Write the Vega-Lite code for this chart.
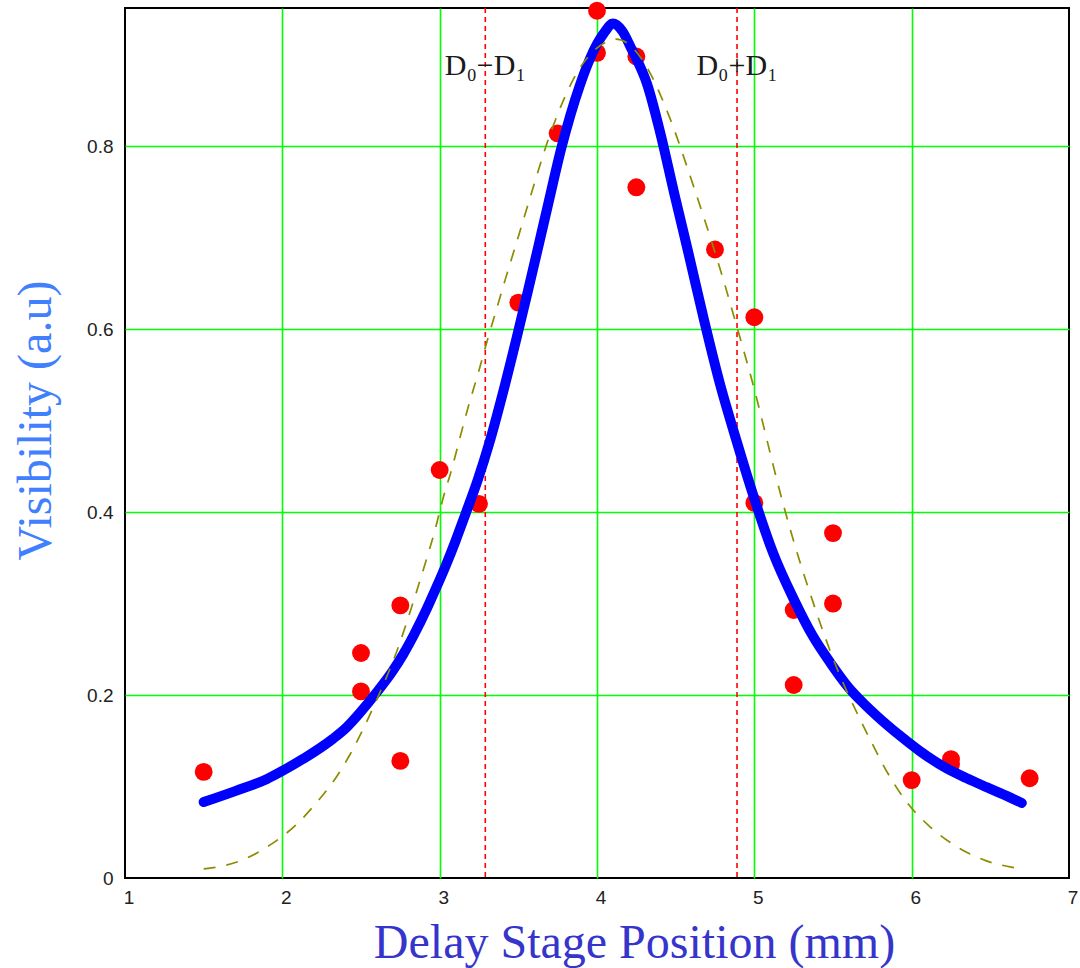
{
  "$schema": "https://vega.github.io/schema/vega-lite/v6.json",
  "width": 944,
  "height": 870,
  "autosize": {"type": "none"},
  "padding": {"left": 125, "top": 8, "right": 11, "bottom": 90},
  "background": "white",
  "config": {
    "view": {"stroke": "#000000", "strokeWidth": 2},
    "axis": {"domain": false, "ticks": false, "gridColor": "#00ff00", "gridWidth": 1.6, "gridOpacity": 1, "labelFont": "Liberation Sans", "labelFontSize": 19, "labelColor": "#222222", "titleFont": "Liberation Serif", "titleFontSize": 48, "titleFontWeight": "normal"}
  },
  "datasets": {
    "points": [
      {"pos": 1.5, "vis": 0.116},
      {"pos": 2.5, "vis": 0.246},
      {"pos": 2.5, "vis": 0.204},
      {"pos": 2.75, "vis": 0.298},
      {"pos": 2.75, "vis": 0.128},
      {"pos": 3.0, "vis": 0.446},
      {"pos": 3.25, "vis": 0.409},
      {"pos": 3.5, "vis": 0.629},
      {"pos": 3.75, "vis": 0.814},
      {"pos": 4.0, "vis": 0.948},
      {"pos": 4.0, "vis": 0.902},
      {"pos": 4.25, "vis": 0.898},
      {"pos": 4.25, "vis": 0.755},
      {"pos": 4.75, "vis": 0.687},
      {"pos": 5.0, "vis": 0.613},
      {"pos": 5.0, "vis": 0.41},
      {"pos": 5.25, "vis": 0.293},
      {"pos": 5.25, "vis": 0.211},
      {"pos": 5.5, "vis": 0.377},
      {"pos": 5.5, "vis": 0.3},
      {"pos": 6.0, "vis": 0.107},
      {"pos": 6.25, "vis": 0.13},
      {"pos": 6.25, "vis": 0.124},
      {"pos": 6.75, "vis": 0.109}
    ],
    "fit": [
      {"pos": 1.5, "vis": 0.083},
      {"pos": 1.7, "vis": 0.095},
      {"pos": 1.9, "vis": 0.108},
      {"pos": 2.0, "vis": 0.117},
      {"pos": 2.13, "vis": 0.13},
      {"pos": 2.32, "vis": 0.152},
      {"pos": 2.41, "vis": 0.165},
      {"pos": 2.5, "vis": 0.182},
      {"pos": 2.6, "vis": 0.203},
      {"pos": 2.7, "vis": 0.226},
      {"pos": 2.77, "vis": 0.245},
      {"pos": 2.84, "vis": 0.267},
      {"pos": 2.92, "vis": 0.295},
      {"pos": 2.98, "vis": 0.318},
      {"pos": 3.04, "vis": 0.342},
      {"pos": 3.1, "vis": 0.368},
      {"pos": 3.16, "vis": 0.396},
      {"pos": 3.24, "vis": 0.434},
      {"pos": 3.32, "vis": 0.478},
      {"pos": 3.4, "vis": 0.529},
      {"pos": 3.49, "vis": 0.591},
      {"pos": 3.56, "vis": 0.641},
      {"pos": 3.62, "vis": 0.685},
      {"pos": 3.69, "vis": 0.737},
      {"pos": 3.775, "vis": 0.799},
      {"pos": 3.89, "vis": 0.866},
      {"pos": 3.98, "vis": 0.905},
      {"pos": 4.05, "vis": 0.925},
      {"pos": 4.1, "vis": 0.934},
      {"pos": 4.16, "vis": 0.926},
      {"pos": 4.22, "vis": 0.906},
      {"pos": 4.32, "vis": 0.867},
      {"pos": 4.4, "vis": 0.816},
      {"pos": 4.49, "vis": 0.749},
      {"pos": 4.58, "vis": 0.684},
      {"pos": 4.68, "vis": 0.61},
      {"pos": 4.78, "vis": 0.541},
      {"pos": 4.89, "vis": 0.476},
      {"pos": 4.99, "vis": 0.42},
      {"pos": 5.12, "vis": 0.355},
      {"pos": 5.25, "vis": 0.305},
      {"pos": 5.37, "vis": 0.265},
      {"pos": 5.48, "vis": 0.236},
      {"pos": 5.6, "vis": 0.208},
      {"pos": 5.7, "vis": 0.19},
      {"pos": 5.78, "vis": 0.177},
      {"pos": 5.93, "vis": 0.155},
      {"pos": 6.05, "vis": 0.139},
      {"pos": 6.22, "vis": 0.12},
      {"pos": 6.35, "vis": 0.109},
      {"pos": 6.48, "vis": 0.099},
      {"pos": 6.6, "vis": 0.09},
      {"pos": 6.7, "vis": 0.082}
    ],
    "gauss": [
      {"pos": 1.5, "vis": 0.01},
      {"pos": 1.55, "vis": 0.011},
      {"pos": 1.75, "vis": 0.02},
      {"pos": 1.93, "vis": 0.037},
      {"pos": 2.08, "vis": 0.057},
      {"pos": 2.23, "vis": 0.085},
      {"pos": 2.35, "vis": 0.112},
      {"pos": 2.43, "vis": 0.135},
      {"pos": 2.5, "vis": 0.158},
      {"pos": 2.6, "vis": 0.195},
      {"pos": 2.73, "vis": 0.249},
      {"pos": 2.84, "vis": 0.306},
      {"pos": 2.91, "vis": 0.345},
      {"pos": 2.97, "vis": 0.38},
      {"pos": 3.02, "vis": 0.414},
      {"pos": 3.08, "vis": 0.449},
      {"pos": 3.13, "vis": 0.482},
      {"pos": 3.18, "vis": 0.514},
      {"pos": 3.25, "vis": 0.555},
      {"pos": 3.3, "vis": 0.586},
      {"pos": 3.36, "vis": 0.621},
      {"pos": 3.42, "vis": 0.656},
      {"pos": 3.5, "vis": 0.701},
      {"pos": 3.57, "vis": 0.741},
      {"pos": 3.7, "vis": 0.812},
      {"pos": 3.89, "vis": 0.885},
      {"pos": 4.06, "vis": 0.914},
      {"pos": 4.12, "vis": 0.917},
      {"pos": 4.19, "vis": 0.913},
      {"pos": 4.34, "vis": 0.879},
      {"pos": 4.46, "vis": 0.832},
      {"pos": 4.61, "vis": 0.758},
      {"pos": 4.755, "vis": 0.681},
      {"pos": 4.81, "vis": 0.65},
      {"pos": 4.87, "vis": 0.614},
      {"pos": 4.93, "vis": 0.578},
      {"pos": 4.98, "vis": 0.547},
      {"pos": 5.03, "vis": 0.514},
      {"pos": 5.07, "vis": 0.486},
      {"pos": 5.12, "vis": 0.451},
      {"pos": 5.18, "vis": 0.411},
      {"pos": 5.24, "vis": 0.374},
      {"pos": 5.3, "vis": 0.34},
      {"pos": 5.38, "vis": 0.298},
      {"pos": 5.44, "vis": 0.268},
      {"pos": 5.5, "vis": 0.24},
      {"pos": 5.58, "vis": 0.207},
      {"pos": 5.64, "vis": 0.185},
      {"pos": 5.74, "vis": 0.15},
      {"pos": 5.84, "vis": 0.117},
      {"pos": 5.96, "vis": 0.085},
      {"pos": 6.11, "vis": 0.057},
      {"pos": 6.28, "vis": 0.035},
      {"pos": 6.47, "vis": 0.019},
      {"pos": 6.66, "vis": 0.011},
      {"pos": 6.69, "vis": 0.01}
    ],
    "markers": [
      {"pos": 3.29, "label": "D₀−D₁", "vis": 0.878},
      {"pos": 4.89, "label": "D₀+D₁", "vis": 0.878}
    ]
  },
  "layer": [
    {
      "data": {"name": "markers"},
      "mark": {"type": "rule", "color": "#ff0000", "strokeWidth": 1.6, "strokeDash": [5, 4]},
      "encoding": {
        "x": {
          "field": "pos", "type": "quantitative",
          "scale": {"domain": [1, 7], "nice": false, "zero": false},
          "axis": {
            "values": [1, 2, 3, 4, 5, 6, 7], "format": "d", "labelFlush": false, "labelOffset": 3.5, "labelPadding": 10,
            "gridOpacity": {"condition": {"test": "datum.value == 1 || datum.value == 7", "value": 0}, "value": 1},
            "title": "Delay Stage Position (mm)", "titleColor": "#3535cc", "titleX": 509, "titleY": 79, "titleAlign": "center", "titleBaseline": "alphabetic", "titleAnchor": null
          }
        }
      }
    },
    {
      "data": {"name": "points"},
      "mark": {"type": "point", "filled": true, "shape": "circle", "size": 320, "color": "#ff0000", "opacity": 1},
      "encoding": {
        "x": {"field": "pos", "type": "quantitative"},
        "y": {
          "field": "vis", "type": "quantitative",
          "scale": {"domain": [0, 0.951], "nice": false, "zero": true},
          "axis": {
            "values": [0, 0.2, 0.4, 0.6, 0.8], "format": ".1~f", "labelPadding": 12, "labelFlush": false,
            "gridOpacity": {"condition": {"test": "datum.value == 0", "value": 0}, "value": 1},
            "title": "Visibility (a.u)", "titleColor": "#4080ff", "titleAngle": -90, "titleX": -75, "titleY": 412, "titleAlign": "center", "titleBaseline": "alphabetic", "titleAnchor": null
          }
        }
      }
    },
    {
      "data": {"name": "fit"},
      "mark": {"type": "line", "color": "#0000ff", "strokeWidth": 10, "strokeCap": "round", "strokeJoin": "round", "interpolate": "monotone"},
      "encoding": {
        "x": {"field": "pos", "type": "quantitative"},
        "y": {"field": "vis", "type": "quantitative"}
      }
    },
    {
      "data": {"name": "gauss"},
      "mark": {"type": "line", "color": "#8c8c00", "strokeWidth": 1.7, "strokeDash": [12, 11], "interpolate": "monotone"},
      "encoding": {
        "x": {"field": "pos", "type": "quantitative"},
        "y": {"field": "vis", "type": "quantitative"}
      }
    },
    {
      "data": {"name": "markers"},
      "mark": {"type": "text", "font": "Liberation Serif", "fontSize": 30, "color": "#1a1a1a", "align": "center", "baseline": "alphabetic"},
      "encoding": {
        "x": {"field": "pos", "type": "quantitative"},
        "y": {"field": "vis", "type": "quantitative"},
        "text": {"field": "label"}
      }
    }
  ]
}
